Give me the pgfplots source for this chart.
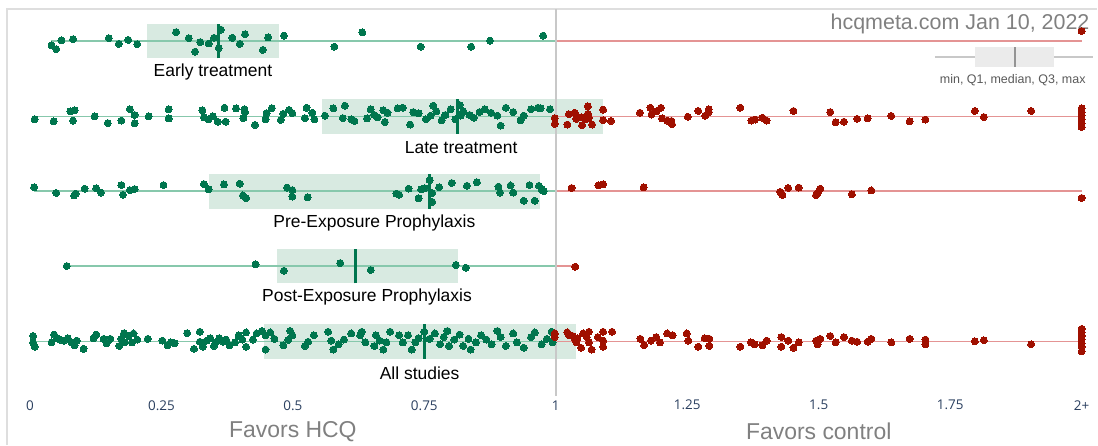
\documentclass[border=0pt]{standalone}
\usepackage{pgfplots}
\pgfplotsset{compat=1.18}
\usepackage{fontspec}
\setmainfont{Liberation Sans}
\newfontfamily\tickfont{Open Sans}
\definecolor{gdot}{RGB}{0,118,78}
\definecolor{rdot}{RGB}{160,16,0}
\definecolor{boxfill}{RGB}{216,234,225}
\definecolor{gline}{RGB}{135,200,172}
\definecolor{rline}{RGB}{228,148,148}
\definecolor{tickc}{RGB}{42,63,95}
\definecolor{framec}{RGB}{222,222,222}
\definecolor{vline}{RGB}{200,200,200}
\definecolor{titlec}{RGB}{128,128,128}

\begin{document}
\begin{tikzpicture}
\begin{axis}[
  scale only axis, width=1098pt, height=446pt,
  xmin=-0.056926, xmax=2.026565, ymin=0, ymax=446,
  axis line style={draw=none}, ytick=\empty,
  xtick={0,0.25,0.5,0.75,1,1.25,1.5,1.75,2},
  xticklabels={0,0.25,0.5,0.75,1,1.25,1.5,1.75,2+},
  major tick length=0pt,
  xticklabel style={font=\tickfont\fontsize{13.5}{16}\selectfont, text=tickc, anchor=center, yshift=40pt},
  clip=false,
  every axis plot/.append style={mark size=3.5pt},
  gdots/.style={only marks, mark=*, color=gdot, mark options={solid, draw=gdot, fill=gdot, line width=0pt}},
  rdots/.style={only marks, mark=*, color=rdot, mark options={solid, draw=rdot, fill=rdot, line width=0pt}},
]
% frame
\draw[framec, line width=1.2pt] (axis cs:-0.04364,0) -- (axis cs:-0.04364,437) -- (axis cs:2.03,437);

% ---- boxes ----
\addplot[fill=boxfill, draw=none] coordinates {(0.222,387.5) (0.474,387.5) (0.474,422.5) (0.222,422.5)} -- cycle;
\addplot[fill=boxfill, draw=none] coordinates {(0.556,312) (1.089,312) (1.089,347) (0.556,347)} -- cycle;
\addplot[fill=boxfill, draw=none] coordinates {(0.340,237) (0.970,237) (0.970,272) (0.340,272)} -- cycle;
\addplot[fill=boxfill, draw=none] coordinates {(0.469,162) (0.814,162) (0.814,197) (0.469,197)} -- cycle;
\addplot[fill=boxfill, draw=none] coordinates {(0.446,86.5) (1.038,86.5) (1.038,121.5) (0.446,121.5)} -- cycle;

% ---- whiskers ----
\addplot[gline, line width=1.5pt] coordinates {(0.040,405) (1,405)};
\addplot[rline, line width=1.5pt] coordinates {(1,405) (2,405)};
\addplot[gline, line width=1.5pt] coordinates {(0.009,329.5) (1,329.5)};
\addplot[rline, line width=1.5pt] coordinates {(1,329.5) (2,329.5)};
\addplot[gline, line width=1.5pt] coordinates {(0.008,254.5) (1,254.5)};
\addplot[rline, line width=1.5pt] coordinates {(1,254.5) (2,254.5)};
\addplot[gline, line width=1.5pt] coordinates {(0.070,179.5) (1,179.5)};
\addplot[rline, line width=1.5pt] coordinates {(1,179.5) (1.037,179.5)};
\addplot[gline, line width=1.5pt] coordinates {(0.006,104) (1,104)};
\addplot[rline, line width=1.5pt] coordinates {(1,104) (2,104)};

% ---- medians ----
\addplot[gdot, line width=3pt] coordinates {(0.359,387.5) (0.359,422.5)};
\addplot[gdot, line width=3pt] coordinates {(0.814,312) (0.814,347)};
\addplot[gdot, line width=3pt] coordinates {(0.759,237) (0.759,272)};
\addplot[gdot, line width=3pt] coordinates {(0.619,162) (0.619,197)};
\addplot[gdot, line width=3pt] coordinates {(0.751,86.5) (0.751,121.5)};

% ---- Early treatment ----
\addplot[gdots] table[y expr=405-\thisrow{o}] {
x o
0.041 4.3
0.050 8.2
0.060 -0.7
0.082 -1.8
0.150 -2.9
0.169 2.9
0.187 -1.1
0.204 3.2
0.278 -8.9
0.302 -2.9
0.314 10.7
0.324 1.1
0.340 2.5
0.350 -3.2
0.359 7.1
0.363 -11.4
0.385 -3.2
0.399 2.9
0.409 -6.8
0.443 8.9
0.453 -3.6
0.483 -5.4
0.579 5.7
0.632 -8.6
0.743 5.7
0.839 5.7
0.875 -0.4
0.976 -5.4
};
\addplot[rdots] table[y expr=405-\thisrow{o}] {
x o
2.0 -10
};

% ---- Late treatment ----
\addplot[gdots] table[y expr=329.5-\thisrow{o}] {
x o
0.009 2.9
0.045 5
0.077 -5
0.085 -6
0.082 4.3
0.123 0
0.148 6.8
0.174 4.3
0.190 -7.1
0.199 7.1
0.199 -1.4
0.226 0
0.264 -7.1
0.264 2.1
0.328 -6.1
0.331 1.1
0.340 2.9
0.348 0
0.357 5.4
0.370 -8.6
0.372 5.4
0.392 -7.9
0.406 1.8
0.408 -7.1
0.409 -4.3
0.428 8.6
0.448 2.9
0.450 -3.2
0.460 -8.2
0.477 3.6
0.482 -2.5
0.493 -6.4
0.499 -3.2
0.523 1.8
0.526 -8.6
0.537 -3.6
0.541 2.9
0.561 -0.7
0.577 -7.9
0.595 1.8
0.599 -10.7
0.611 2.9
0.617 4.6
0.641 2.1
0.648 -7.1
0.655 -1.4
0.661 1.1
0.672 -6.1
0.675 5.7
0.680 -3.6
0.699 -7.9
0.709 -8.6
0.723 8.2
0.729 -4.3
0.739 -2.9
0.753 2.9
0.762 -0.7
0.767 -10.7
0.773 -5
0.783 3.9
0.790 -1.4
0.800 -7.1
0.809 2.9
0.817 -11.4
0.819 -0.7
0.824 -5
0.836 -1.4
0.844 1.4
0.855 -4.3
0.865 -7.1
0.877 -3.6
0.889 -0.7
0.895 9.3
0.905 -8.6
0.919 -4.3
0.933 3.9
0.939 -0.7
0.953 -7.1
0.966 -8.6
0.971 -8.2
0.989 -7.1
};
\addplot[rdots] table[y expr=329.5-\thisrow{o}] {
x o
0.998 1.8
0.998 7.5
1.022 8.2
1.025 -2.1
1.036 -3.6
1.039 2.5
1.048 1.1
1.050 8.9
1.057 2.9
1.061 -10
1.061 -2.5
1.063 1.4
1.069 8.2
1.090 -6.8
1.090 3.9
1.105 4.6
1.160 -3.6
1.180 -8.6
1.182 -1.8
1.191 -5
1.200 -8.6
1.202 2.1
1.212 4.3
1.220 4.6
1.221 7.9
1.251 0.4
1.271 -5.4
1.284 -0.7
1.291 -7.1
1.291 -4.3
1.351 -8.6
1.372 4.3
1.379 3.2
1.393 1.4
1.401 4.3
1.452 -5.4
1.522 -4.3
1.532 6.1
1.548 5.4
1.573 2.5
1.593 2.1
1.638 -0.4
1.673 5
1.703 3.2
1.797 -5.4
1.814 0.7
1.904 -5.4
2.0 -7.9
2.0 -4.3
2.0 -0.7
2.0 2.9
2.0 7.1
2.0 10.7
};

% ---- Pre-Exposure Prophylaxis ----
\addplot[gdots] table[y expr=254.5-\thisrow{o}] {
x o
0.008 -3.9
0.050 1.8
0.084 4.3
0.087 2.5
0.104 -2.5
0.126 -2.9
0.135 1.4
0.174 -6.1
0.177 3.6
0.190 -1.1
0.199 -2.1
0.254 -6.1
0.331 -7.1
0.340 -1.8
0.369 -6.8
0.399 -7.5
0.405 4.3
0.411 7.1
0.489 -3.6
0.499 -1.1
0.499 5.4
0.528 6.1
0.697 2.5
0.702 3.6
0.720 -2.5
0.739 7.1
0.744 -1.8
0.751 -2.9
0.760 -11.1
0.765 1.8
0.765 10.7
0.778 -3.9
0.802 -8.2
0.831 -5.4
0.850 -8.9
0.891 -4.6
0.894 1.4
0.914 -5.7
0.919 1.4
0.939 9.6
0.950 -6.1
0.960 9.6
0.968 -5.4
0.973 -1.8
0.977 0
};
\addplot[rdots] table[y expr=254.5-\thisrow{o}] {
x o
1.030 -3.2
1.081 -5.7
1.090 -6.8
1.167 -3.9
1.427 0.7
1.431 3.9
1.442 -3.2
1.462 -3.6
1.495 3.9
1.498 1.8
1.503 -2.5
1.563 3.2
1.600 -0.7
2.0 6.8
};

% ---- Post-Exposure Prophylaxis ----
\addplot[gdots] table[y expr=179.5-\thisrow{o}] {
x o
0.070 0
0.429 -1.7
0.483 4.7
0.590 -3
0.648 4
0.810 -1
0.829 1.7
};
\addplot[rdots] table[y expr=179.5-\thisrow{o}] {
x o
1.037 0.7
};

% ---- All studies ----
\addplot[gdots] table[y expr=104-\thisrow{o}] {
x o
0.006 -5.4
0.006 1.1
0.009 5.4
0.041 1.1
0.046 -6.8
0.052 -3.2
0.057 -1.8
0.065 -0.7
0.072 -3.2
0.079 1.1
0.085 3.9
0.089 -0.7
0.102 7.5
0.121 -3.2
0.126 -6.8
0.140 -2.5
0.146 2.1
0.153 -2.5
0.170 4.6
0.174 -2.5
0.179 -8.2
0.180 1.1
0.188 -5.4
0.194 1.1
0.197 -7.9
0.204 -1.8
0.224 -2.5
0.252 -0.7
0.262 3.9
0.268 1.1
0.275 2.1
0.299 -8.2
0.312 7.5
0.323 -9.6
0.323 0.4
0.329 5.4
0.336 -0.7
0.343 -3.2
0.350 4.6
0.353 1.1
0.360 -3.2
0.367 0.4
0.373 -1.8
0.380 3.9
0.390 1.1
0.397 -6.1
0.404 -1.8
0.411 5.4
0.411 -8.9
0.424 -1.8
0.431 -7.9
0.441 -10.4
0.448 -6.1
0.448 8.2
0.457 -8.9
0.465 -2.5
0.482 3.9
0.491 -1.4
0.495 -10.4
0.499 -6.1
0.523 4.6
0.529 0.4
0.540 -6.1
0.567 -9.6
0.573 -0.7
0.577 8.2
0.587 2.9
0.597 -1.8
0.611 -7.9
0.628 -6.1
0.631 -9.6
0.638 1.1
0.655 4.6
0.658 -6.1
0.665 -0.7
0.672 8.2
0.678 1.1
0.685 -9.6
0.702 -6.1
0.709 1.1
0.719 -6.1
0.726 8.2
0.733 1.1
0.739 -3.2
0.750 -9.6
0.760 -2.5
0.770 -7.9
0.780 2.9
0.787 -4.3
0.794 -10.4
0.797 4.6
0.807 -1.8
0.817 -6.8
0.824 4.6
0.834 -2.5
0.838 8.2
0.848 1.1
0.858 -6.1
0.868 -1.8
0.878 2.9
0.889 -10.4
0.895 -4.3
0.905 4.6
0.919 -7.9
0.926 1.1
0.939 6.4
0.953 -4.3
0.960 -8.9
0.973 2.9
0.983 -2.5
0.992 -9.6
0.994 1.1
};
\addplot[rdots] table[y expr=104-\thisrow{o}] {
x o
0.998 -7.9
0.998 -4.3
1.022 -8.9
1.025 -6.1
1.032 -5.4
1.036 -2.5
1.039 1.1
1.041 -3.2
1.048 6.4
1.052 -7.9
1.059 -4.3
1.063 -9.6
1.063 1.1
1.068 8.2
1.080 -4.3
1.090 -9.6
1.090 -0.7
1.090 5.4
1.107 -9.6
1.161 -2.5
1.168 3.9
1.181 -0.7
1.191 -4.3
1.198 1.1
1.212 -7.9
1.222 -6.1
1.249 -7.9
1.252 -0.7
1.271 5.4
1.283 -3.2
1.292 4.6
1.292 -2.5
1.351 5.4
1.371 1.1
1.378 2.9
1.393 3.9
1.401 -0.7
1.429 -4.3
1.429 5.4
1.442 -0.7
1.452 6.4
1.462 1.1
1.495 -0.7
1.498 2.9
1.503 -2.5
1.522 -5.4
1.532 1.1
1.548 -4.3
1.563 -0.7
1.573 0.4
1.593 0.4
1.600 -2.5
1.638 1.1
1.673 -2.5
1.703 -1.8
1.703 2.9
1.797 0
1.814 -1.1
1.904 2.9
2.0 -12.5
2.0 -8.9
2.0 -5.4
2.0 -1.8
2.0 1.8
2.0 5.4
2.0 10
};

% vertical reference line at 1 (drawn over the dots, as in the reference)
\addplot[vline, line width=2pt] coordinates {(1,49) (1,437)};

% ---- row labels ----
\node[font=\fontsize{17.5}{20}\selectfont] at (axis cs:0.348,373.5) {Early treatment};
\node[font=\fontsize{17.5}{20}\selectfont] at (axis cs:0.820,298) {Late treatment};
\node[font=\fontsize{17.5}{20}\selectfont] at (axis cs:0.655,223) {Pre-Exposure Prophylaxis};
\node[font=\fontsize{17.5}{20}\selectfont] at (axis cs:0.641,148) {Post-Exposure Prophylaxis};
\node[font=\fontsize{17.5}{20}\selectfont] at (axis cs:0.741,72.5) {All studies};

% ---- title and legend glyph ----
\node[anchor=east, text=titlec, font=\fontsize{21.5}{24}\selectfont, inner sep=0pt] at (axis cs:2.0152,422) {hcqmeta.com Jan 10, 2022};
\draw[vline, line width=1.2pt] (axis cs:1.721,389) -- (axis cs:2.021,389);
\fill[black!8] (axis cs:1.797,379) rectangle (axis cs:1.947,399);
\draw[black!42, line width=2.5pt] (axis cs:1.873,379) -- (axis cs:1.873,399);
\node[text=black!65, font=\fontsize{12.5}{15}\selectfont] at (axis cs:1.869,366) {min, Q1, median, Q3, max};

% ---- axis side titles ----
\node[text=titlec, font=\fontsize{23}{26}\selectfont] at (axis cs:0.5,14) {Favors HCQ};
\node[text=titlec, font=\fontsize{23}{26}\selectfont] at (axis cs:1.5,14) {Favors control};
\path (rel axis cs:0,0) rectangle (rel axis cs:1,1);
\end{axis}
\end{tikzpicture}
\end{document}
